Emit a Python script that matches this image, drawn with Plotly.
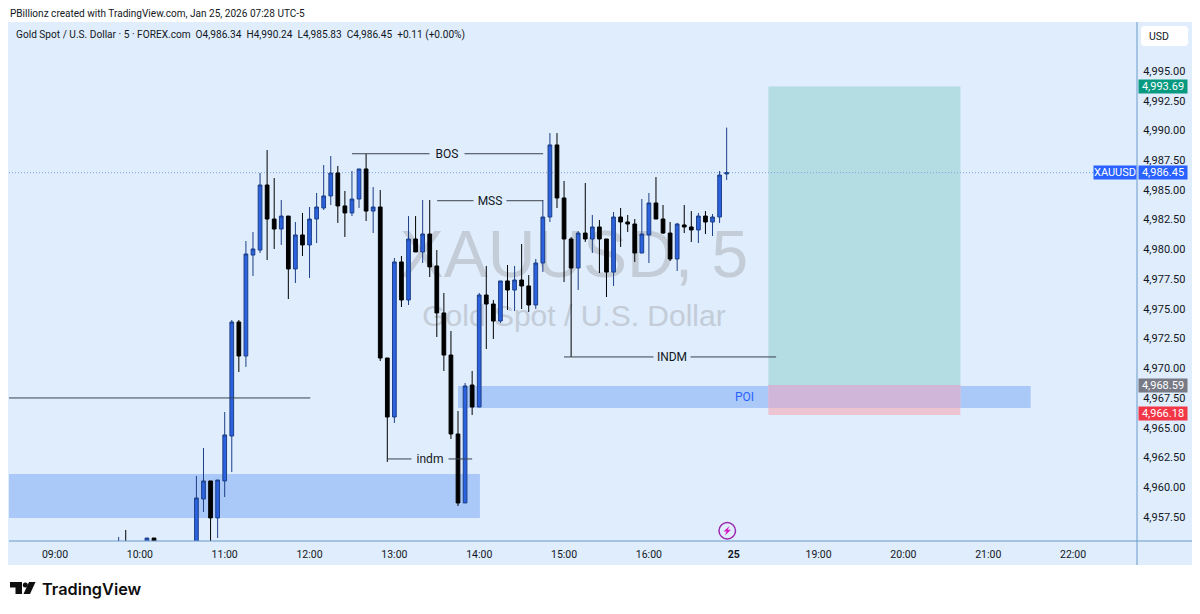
import plotly.graph_objects as go

# bar number counted from the 09:00 candle, 5 minute bars
bar_index = [9, 10, 13, 14] + list(range(20, 96))

open_px = [4954.20, 4954.90, 4955.00, 4955.72,
    4952.80, 4959.00, 4960.52, 4957.41, 4960.52, 4964.30, 4973.89, 4971.03, 4979.52, 4979.94,
    4985.41, 4982.55, 4981.71, 4982.80, 4978.35, 4981.21, 4980.37, 4982.55, 4983.48, 4984.49,
    4986.42, 4983.65, 4983.06, 4984.23, 4986.76, 4983.22, 4983.56, 4970.86, 4965.90, 4978.94,
    4975.74, 4980.87, 4979.78, 4981.29, 4978.60, 4974.65, 4971.11, 4964.47, 4958.67, 4968.59,
    4966.74, 4976.16, 4975.40, 4973.97, 4977.34, 4976.58, 4977.42, 4976.92, 4975.32, 4978.85,
    4982.72, 4988.78, 4984.32, 4980.87, 4978.43, 4981.37, 4980.87, 4981.88, 4980.87, 4978.09,
    4982.72, 4982.30, 4982.13, 4979.69, 4981.21, 4983.90, 4982.55, 4981.37, 4979.19, 4982.05,
    4981.88, 4981.63, 4982.80, 4982.30, 4982.72, 4986.34]
high_px = [4955.81, 4956.40, 4955.72, 4955.72,
    4960.94, 4963.29, 4960.52, 4960.60, 4966.32, 4974.06, 4974.06, 4980.70, 4981.46, 4986.42,
    4988.35, 4986.00, 4984.15, 4982.80, 4982.30, 4983.06, 4983.56, 4984.74, 4987.09, 4987.85,
    4987.01, 4984.91, 4986.59, 4986.76, 4988.02, 4985.24, 4984.99, 4970.86, 4979.27, 4979.44,
    4982.80, 4982.80, 4984.15, 4984.15, 4979.94, 4976.33, 4973.13, 4966.40, 4968.76, 4969.77,
    4976.33, 4978.60, 4975.74, 4977.34, 4978.68, 4978.60, 4980.45, 4977.84, 4979.19, 4984.15,
    4989.78, 4989.78, 4985.75, 4981.04, 4981.54, 4985.58, 4982.89, 4982.47, 4980.87, 4983.14,
    4983.48, 4982.89, 4982.55, 4984.23, 4984.74, 4986.08, 4983.73, 4982.30, 4982.22, 4983.73,
    4983.22, 4983.06, 4983.22, 4982.97, 4986.59, 4990.24]
low_px = [4953.80, 4953.50, 4954.60, 4954.60,
    4952.30, 4957.91, 4953.90, 4955.72, 4959.17, 4961.27, 4969.68, 4970.11, 4977.76, 4979.69,
    4979.10, 4980.03, 4980.37, 4975.82, 4977.17, 4979.44, 4977.59, 4980.53, 4983.31, 4983.73,
    4982.22, 4981.04, 4982.80, 4983.48, 4982.38, 4981.37, 4970.61, 4962.12, 4965.40, 4975.15,
    4975.32, 4979.78, 4978.85, 4977.67, 4972.63, 4969.77, 4964.05, 4958.42, 4958.67, 4966.07,
    4966.74, 4971.62, 4972.46, 4973.81, 4974.90, 4974.81, 4974.98, 4974.73, 4974.98, 4978.09,
    4982.30, 4983.48, 4977.25, 4970.95, 4976.58, 4980.62, 4979.69, 4978.01, 4975.99, 4976.92,
    4980.20, 4981.46, 4978.94, 4979.69, 4978.85, 4982.55, 4981.29, 4979.02, 4978.18, 4981.37,
    4980.62, 4980.53, 4981.29, 4981.12, 4982.22, 4985.83]
close_px = [4954.90, 4954.30, 4955.72, 4955.00,
    4959.09, 4960.52, 4957.41, 4960.60, 4964.39, 4973.89, 4971.03, 4979.61, 4980.03, 4985.41,
    4982.55, 4981.71, 4982.80, 4978.35, 4981.21, 4980.37, 4982.55, 4983.56, 4984.49, 4986.42,
    4983.65, 4983.06, 4984.23, 4986.76, 4983.22, 4983.56, 4970.86, 4965.90, 4978.94, 4975.74,
    4980.87, 4979.78, 4981.29, 4978.52, 4974.65, 4971.11, 4964.47, 4958.67, 4968.51, 4966.74,
    4976.16, 4975.40, 4973.97, 4977.34, 4976.58, 4977.42, 4976.92, 4975.32, 4978.85, 4982.72,
    4988.78, 4984.32, 4980.87, 4978.43, 4981.37, 4980.87, 4981.88, 4980.87, 4978.09, 4982.72,
    4982.30, 4982.13, 4979.69, 4981.29, 4983.90, 4982.55, 4981.37, 4979.19, 4982.13, 4981.88,
    4981.63, 4982.80, 4982.30, 4982.72, 4986.25, 4986.45]

time_ticks = [0, 12, 24, 36, 48, 60, 72, 84, 96, 108, 120, 132, 144]
time_labels = ["09:00", "10:00", "11:00", "12:00", "13:00", "14:00", "15:00", "16:00",
               "<b>25</b>", "19:00", "20:00", "21:00", "22:00"]
price_ticks = [4957.5, 4960, 4962.5, 4965, 4967.5, 4970, 4972.5, 4975, 4977.5, 4980,
               4982.5, 4985, 4987.5, 4990, 4992.5, 4995]

last_price = 4986.45
target_price = 4993.69
entry_price = 4968.59
stop_price = 4966.18

PANEL = "#dfedfd"
SPINE = "#6a9ac8"
INK = "#131722"
FONT = "Roboto"
W, H = 1200, 614
L, R, T, B = 9, 1137, 22, 541
x_range = [-6.51, 153.04]
y_range = [4955.47, 4999.12]


# chart furniture is placed in screen pixels
def px(x):
    return (x - L) / (R - L)


def py(y):
    return (B - y) / (B - T)


def pixel_path(points):
    return "M" + " L".join(f"{px(a):.5f},{py(b):.5f}" for a, b in points) + " Z"


def paper_shape(**kw):
    return dict(xref="paper", yref="paper", **kw)


def zone(x0, x1, y0, y1, color, layer="below"):
    return dict(type="rect", xref="x", yref="y", x0=x0, x1=x1, y0=y0, y1=y1,
                fillcolor=color, line_width=0, layer=layer)


def level(x0, x1, y, color="#3c424d", width=1):
    return dict(type="line", xref="x", yref="y", x0=x0, x1=x1, y0=y, y1=y,
                line=dict(color=color, width=width))


def label(x, y, text, width):
    return dict(x=x, y=y, xref="x", yref="y", text=text, showarrow=False, width=width,
                bgcolor=PANEL, font=dict(family=FONT, size=12, color=INK))


def price_tag(y, text, color, xanchor="left", width=48, xshift=1):
    return dict(x=1, y=y, xref="paper", yref="y", text=text, showarrow=False, xanchor=xanchor,
                xshift=xshift, width=width, height=13, bgcolor=color, borderpad=0,
                font=dict(family=FONT, size=11, color="white"))


def screen_text(x, y, text, size, color=INK, family=FONT, weight=None):
    return dict(x=px(x), y=py(y), xref="paper", yref="paper", text=text, showarrow=False,
                xanchor="left", yanchor="middle", borderpad=0,
                font=dict(family=family, size=size, color=color, weight=weight))


fig = go.Figure()

# watermark stays on the base axes so that the candles paint over it
fig.add_trace(go.Scatter(
    x=[73.4], y=[4979.1], mode="text", text=["XAUUSD, 5"], hoverinfo="skip",
    textfont=dict(family="Liberation Sans", size=66, color="#c3ccd7"), showlegend=False
))
fig.add_trace(go.Scatter(
    x=[73.4], y=[4974.15], mode="text", text=["Gold Spot / U.S. Dollar"], hoverinfo="skip",
    textfont=dict(family="Liberation Sans", size=30, color="#c3ccd7"), showlegend=False
))

fig.add_trace(go.Candlestick(
    x=bar_index, open=open_px, high=high_px, low=low_px, close=close_px,
    xaxis="x2", yaxis="y2", whiskerwidth=0, showlegend=False,
    increasing=dict(fillcolor="#2b62e0", line=dict(color="#1d3f86", width=1)),
    decreasing=dict(fillcolor="#000000", line=dict(color="#000000", width=1)),
))

shapes = [
    paper_shape(type="rect", x0=px(8), x1=px(1192), y0=py(22), y1=py(565), fillcolor=PANEL,
                line_width=0, layer="below"),
    zone(x_range[0], 60.1, 4957.41, 4961.11, "#abc9f8"),
    zone(57, 138, 4966.66, 4968.51, "#abc9f8"),
    zone(100.9, 128.06, entry_price, target_price, "#b4dce3"),
    zone(100.9, 128.06, 4966.07, entry_price, "#ecc4d2"),
    zone(100.9, 128.06, 4966.66, entry_price, "#d0b7d9"),
    level(x_range[0], 36.1, 4967.5),
    level(42, 69.05, 4988.04),
    level(54.05, 69.05, 4984.09),
    level(72, 102, 4970.95),
    level(47, 59, 4962.37),
    dict(type="line", xref="x", yref="y", x0=x_range[0], x1=x_range[1], y0=last_price, y1=last_price,
         line=dict(color="#7fa2ec", width=1, dash="1px,2px"), layer="below"),
    paper_shape(type="line", x0=px(R), x1=px(R), y0=py(22), y1=py(565),
                line=dict(color=SPINE, width=1)),
    paper_shape(type="line", x0=px(L), x1=px(1192), y0=py(B), y1=py(B),
                line=dict(color=SPINE, width=1)),
    # USD button
    paper_shape(type="path", line_width=0, fillcolor="white", path=pixel_path(
        [(1143, 26), (1186, 26), (1188, 28), (1188, 44), (1186, 46), (1143, 46), (1141, 44), (1141, 28)])),
    # logo
    paper_shape(type="path", line_width=0, fillcolor="#0f0f0f", path=pixel_path(
        [(10, 582), (22, 582), (22, 594), (15.5, 594), (15.5, 587.5), (10, 587.5)])),
    paper_shape(type="circle", line_width=0, fillcolor="#0f0f0f",
                x0=px(22.8), x1=px(27.8), y0=py(587.5), y1=py(582.5)),
    paper_shape(type="path", line_width=0, fillcolor="#0f0f0f", path=pixel_path(
        [(29, 582), (35.5, 582), (30, 594), (23.5, 594)])),
    # flash icon on the time scale
    paper_shape(type="circle", line=dict(color="#9c27b0", width=1.5), fillcolor=PANEL,
                x0=px(719), x1=px(735.5), y0=py(539), y1=py(522.5)),
    paper_shape(type="path", line_width=0, fillcolor="#d81bc0", path=pixel_path(
        [(729.5, 526), (723.5, 531.5), (726.5, 531.5), (725, 535.5), (731, 529.8), (727.8, 529.8)])),
]

annotations = [
    label(55.5, 4988.04, "BOS", 32),
    label(61.55, 4984.09, "MSS", 30),
    label(87.2, 4970.95, "INDM", 34),
    label(53.06, 4962.37, "indm", 34),
    dict(x=97.5, y=4967.6, xref="x", yref="y", text="POI", showarrow=False,
         font=dict(family=FONT, size=12, color="#2962ff")),
    price_tag(target_price, "4,993.69", "#089981"),
    price_tag(last_price, "4,986.45", "#2962ff"),
    price_tag(last_price, "XAUUSD", "#2962ff", xanchor="right", width=42, xshift=0),
    price_tag(entry_price, "4,968.59", "#787b86"),
    price_tag(stop_price, "4,966.18", "#f23645"),
    screen_text(9, 13, "PBillionz created with TradingView.com, Jan 25, 2026 07:28 UTC-5", 10.05),
    screen_text(15, 35, "Gold Spot / U.S. Dollar · 5 · FOREX.com&nbsp;&nbsp;O4,986.34&nbsp;&nbsp;H4,990.24"
                "&nbsp;&nbsp;L4,985.83&nbsp;&nbsp;C4,986.45&nbsp;&nbsp;+0.11 (+0.00%)", 10.15),
    screen_text(1148, 36, "USD", 10.5),
    screen_text(41, 589, "TradingView", 16.3, color="#0f0f0f", family="Inter", weight=600),
]

fig.update_layout(
    width=W, height=H,
    margin=dict(l=L, r=W - R, t=T, b=H - B, pad=0),
    paper_bgcolor="white", plot_bgcolor=PANEL,
    showlegend=False, hovermode=False, boxgap=0.25,
    font=dict(family=FONT, size=11, color=INK),
    shapes=shapes, annotations=annotations,
    xaxis=dict(range=x_range, tickmode="array", tickvals=time_ticks, ticktext=time_labels,
               showgrid=False, zeroline=False, showline=False, ticks="outside", ticklen=3,
               tickcolor=PANEL, tickfont=dict(family=FONT, size=10.5, color=INK)),
    yaxis=dict(range=y_range, tickmode="array", tickvals=price_ticks, tickformat=",.2f",
               side="right", showgrid=False, zeroline=False, showline=False, ticks="outside",
               ticklen=3, tickcolor=PANEL, tickfont=dict(family=FONT, size=11, color=INK)),
    xaxis2=dict(range=x_range, overlaying="x", visible=False, rangeslider=dict(visible=False)),
    yaxis2=dict(range=y_range, overlaying="y", visible=False),
)

fig.write_html("out.html", post_script="document.body.style.margin='0';",
               config=dict(displayModeBar=False))
